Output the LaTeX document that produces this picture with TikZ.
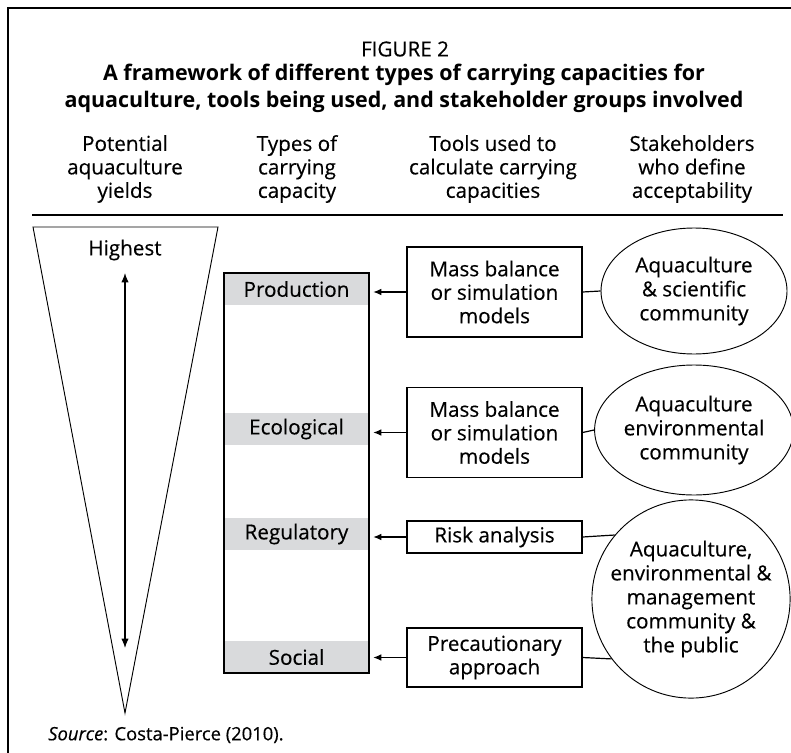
\documentclass[tikz,border=0pt]{standalone}
\usepackage{fontspec}
\setmainfont{Open Sans}[FakeBold=0.35, BoldFont={Open Sans Bold}, BoldFeatures={FakeBold=0}]
\usetikzlibrary{arrows.meta,shapes.geometric}
\definecolor{bandgray}{RGB}{217,218,220}
\definecolor{ink}{RGB}{0,0,0}
\begin{document}
\begin{tikzpicture}[x=0.75pt,y=-0.75pt,
  every node/.style={text=ink},
  base/.style={font=\fontsize{15.5}{17.6}\selectfont, align=center, inner sep=0pt},
  hdr/.style={base},
  titlestyle/.style={font=\fontsize{16.1}{20.25}\selectfont\bfseries, align=center, inner sep=0pt},
  toolbox/.style={base, draw=ink, line width=0.9pt, minimum width=131.25pt},
  band/.style={base, fill=bandgray, minimum width=108.75pt, minimum height=24pt},
  stake/.style={ellipse, draw=ink, line width=0.7pt, inner sep=0pt, align=center,
     font=\fontsize{15.5}{18}\selectfont},
  feed/.style={draw=ink, line width=0.9pt, -{Latex[length=6pt,width=5pt]}, shorten >=3pt},
  link/.style={draw=ink, line width=0.9pt},
]
\useasboundingbox (0,0) rectangle (791,752);
% frame
\draw[ink, line width=1pt] (8,800) -- (8,8) -- (820,8);

% headings
\node[base] (fig) at (405,49) {FIGURE 2};
\node[titlestyle] (title) at (404,88.5) {A framework of different types of carrying capacities for\\aquaculture, tools being used, and stakeholder groups involved};
\node[hdr] (h1) at (125,169) {Potential\\aquaculture\\yields};
\node[hdr] (h2) at (297,169) {Types of\\carrying\\capacity};
\node[hdr] (h3) at (493,169) {Tools used to\\calculate carrying\\capacities};
\node[hdr] (h4) at (692,169) {Stakeholders\\who define\\acceptability};
\coordinate (ruleL) at (32,215);
\coordinate (ruleR) at (783,215);
\draw[ink, line width=1.6pt] (ruleL) -- (ruleR);

% yield triangle
\coordinate (triA) at (33,227);
\coordinate (triB) at (218,227);
\coordinate (triC) at (125,713);
\draw[ink, line width=0.7pt, line join=miter] (triA) -- (triB) -- (triC) -- cycle;
\node[base] (highest) at (125,250) {Highest};
\coordinate (arTop) at (125,273);
\coordinate (arBot) at (125,648);
\draw[ink, line width=0.9pt, {Latex[length=7pt,width=5.5pt]}-{Latex[length=7pt,width=5.5pt]}] (arTop) -- (arBot);

% types of carrying capacity
\node[band] (prod) at (296.5,289) {Production};
\node[band] (eco) at (296.5,429) {Ecological};
\node[band] (reg) at (296.5,534) {Regulatory};
\node[band] (soc) at (296.5,657) {Social};
\node[draw=ink, line width=0.9pt, minimum width=108.75pt, minimum height=300pt, inner sep=0pt] (types) at (296.5,473) {};

% tools
\node[toolbox, minimum height=67.5pt] (mb1) at (494.5,292) {Mass balance\\or simulation\\models};
\node[toolbox, minimum height=67.5pt] (mb2) at (494.5,432.5) {Mass balance\\or simulation\\models};
\node[toolbox, minimum height=24pt] (risk) at (494.5,537) {Risk analysis};
\node[toolbox, minimum height=44.25pt] (prec) at (494.5,657.5) {Precautionary\\approach};

% stakeholders
\node[stake, minimum width=139.5pt, minimum height=94.5pt] (st1) at (694,291) {Aquaculture\\\& scientific\\community};
\node[stake, minimum width=139.5pt, minimum height=97.5pt] (st2) at (694,430) {Aquaculture\\environmental\\community};
\node[stake, circle, minimum size=144pt] (st3) at (691,599) {Aquaculture,\\environmental \&\\management\\community \&\\the public};

% connectors
\draw[feed] (mb1.west) -- (mb1.west -| prod.east);
\draw[feed] (mb2.west) -- (mb2.west -| eco.east);
\draw[feed] (risk.west) -- (risk.west -| reg.east);
\draw[feed] (prec.west) -- (prec.west -| soc.east);
\draw[link] (mb1.east) -- (st1.west);
\draw[link] (mb2.east) -- (st2.west);
\draw[link] (risk.east) -- (st3.140);
\draw[link] (prec.east) -- (st3.217);

% source
\node[base, font=\fontsize{13.8}{16}\selectfont, anchor=west] (src) at (48,735) {\textit{Source}: Costa-Pierce (2010).};
\end{tikzpicture}
\end{document}
